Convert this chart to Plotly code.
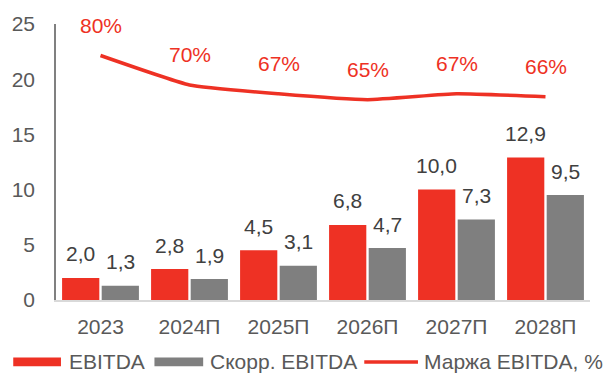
import plotly.graph_objects as go

# Data
years = ["2023", "2024П", "2025П", "2026П", "2027П", "2028П"]
ebitda = [2.0, 2.8, 4.5, 6.8, 10.0, 12.9]
adj_ebitda = [1.3, 1.9, 3.1, 4.7, 7.3, 9.5]
margin = [80, 70, 67, 65, 67, 66]

RED = "#EE3124"
GREY = "#7F7F7F"
TXT = "#595959"
LBL = "#404040"
FONT = "Arial"
FS = 21

W, H = 606, 376
ML, MR, MT, MB = 53, 16, 19, 76

xpos = list(range(len(years)))


def px_x(p):
    return (p - ML) / (W - ML - MR)


def px_y(p):
    return (H - MB - p) / (H - MT - MB)


def fmt(v):
    return f"{v:.1f}".replace(".", ",")


fig = go.Figure()
fig.add_trace(go.Bar(x=xpos, y=ebitda, name="EBITDA", marker_color=RED,
                     marker_line_width=0))
fig.add_trace(go.Bar(x=xpos, y=adj_ebitda, name="Скорр. EBITDA",
                     marker_color=GREY, marker_line_width=0))
fig.add_trace(go.Scatter(x=xpos, y=margin, name="Маржа EBITDA, %", yaxis="y2",
                         mode="lines", line=dict(color=RED, width=3.5, shape="spline",
                                                 smoothing=0.4)))

annotations = []
# value labels above bars
for i, a, b in zip(xpos, ebitda, adj_ebitda):
    annotations.append(dict(x=i, y=a, text=fmt(a), showarrow=False, xshift=-20,
                            yshift=24, font=dict(size=FS, color=LBL, family=FONT)))
    annotations.append(dict(x=i, y=b, text=fmt(b), showarrow=False, xshift=20,
                            yshift=24, font=dict(size=FS, color=LBL, family=FONT)))
# margin labels
for i, m in zip(xpos, margin):
    annotations.append(dict(x=i, y=m, yref="y2", text=f"{m}%", showarrow=False,
                            yshift=30, font=dict(size=FS, color=RED, family=FONT)))

# custom legend
legend_y = 363
shapes = [
    dict(type="rect", xref="paper", yref="paper", x0=px_x(10), x1=px_x(58),
         y0=px_y(legend_y + 4.5), y1=px_y(legend_y - 4.5), fillcolor=RED, line_width=0),
    dict(type="rect", xref="paper", yref="paper", x0=px_x(152), x1=px_x(201),
         y0=px_y(legend_y + 4.5), y1=px_y(legend_y - 4.5), fillcolor=GREY, line_width=0),
    dict(type="line", xref="paper", yref="paper", x0=px_x(363), x1=px_x(417),
         y0=px_y(legend_y), y1=px_y(legend_y), line=dict(color=RED, width=3.5)),
]
for lx, label in [(64, "EBITDA"), (206, "Скорр. EBITDA"), (421, "Маржа EBITDA, %")]:
    annotations.append(dict(xref="paper", yref="paper", x=px_x(lx), y=px_y(legend_y),
                            xanchor="left", yanchor="middle", text=label, showarrow=False,
                            font=dict(size=FS, color=TXT, family=FONT)))

fig.update_layout(
    width=W, height=H,
    margin=dict(l=ML, r=MR, t=MT, b=MB),
    paper_bgcolor="white", plot_bgcolor="white",
    barmode="group", bargap=0.11, bargroupgap=0.06,
    showlegend=False,
    font=dict(family=FONT, size=FS, color=TXT),
    xaxis=dict(range=[-0.5, len(years) - 0.5], tickvals=xpos, ticktext=years,
               showline=True, linecolor="#D9D9D9", linewidth=2, zeroline=False,
               showgrid=False, ticks="", tickfont=dict(size=FS, color=TXT),
               ticklabelstandoff=7),
    yaxis=dict(range=[0, 25], tickvals=[0, 5, 10, 15, 20, 25], showgrid=False,
               zeroline=False, showline=True, linecolor="#808080", linewidth=1.5,
               ticks="", tickfont=dict(size=FS, color=TXT), ticklabelstandoff=15),
    yaxis2=dict(overlaying="y", range=[-3, 90.7], visible=False),
    annotations=annotations,
    shapes=shapes,
)

fig.write_html("out.html")
